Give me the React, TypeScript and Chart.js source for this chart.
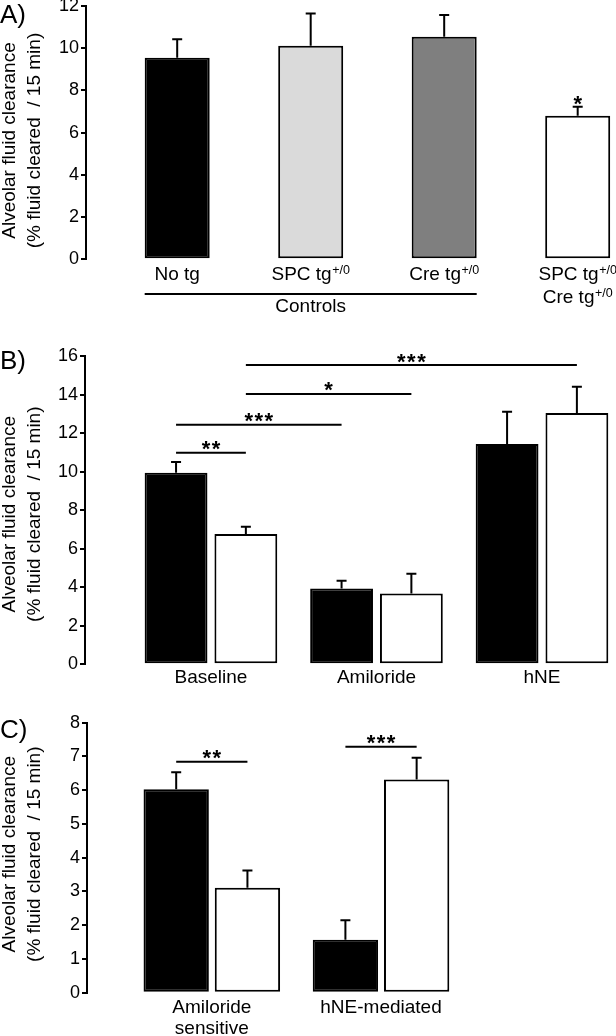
import React, { useEffect, useRef } from 'react';
import { Chart, registerables } from 'chart.js';

Chart.register(...registerables);

const FONT = '"Liberation Sans", Arial, Helvetica, sans-serif';
const Y_TITLE = ['Alveolar fluid clearance', '(% fluid cleared  / 15 min)'];
const SERIES = ['Control', 'SPC tg+/0 Cre tg+/0'];

// ---------- Panel A ----------
const aLabels = [['No tg'], ['SPC tg^+/0'], ['Cre tg^+/0'], ['SPC tg^+/0', 'Cre tg^+/0']];
const aPositions = [1, 2, 3, 4];
const aMeans = [9.55, 10.12, 10.54, 6.8];
const aErrors = [0.87, 1.53, 1.03, 0.43];
const aColors = ['#000000', '#dadada', '#7f7f7f', '#ffffff'];
const aStars = ['', '', '', '*'];
const aGroupName = 'Controls';
const aGroupSpan = [0, 2];
const aTicksMax = 12;
const aTickStep = 2;

// ---------- Panel B ----------
const bGroups = ['Baseline', 'Amiloride', 'hNE'];
const bPositions = [1, 2, 3];
const bControlMeans = [9.94, 3.94, 11.43];
const bControlErrors = [0.56, 0.4, 1.68];
const bTgMeans = [6.76, 3.68, 13.04];
const bTgErrors = [0.38, 1.02, 1.37];
const bSigFrom = [[0, 0], [0, 0], [0, 1], [0, 1]];
const bSigTo = [[0, 1], [1, 0], [1, 1], [2, 1]];
const bSigLevel = [10.98, 12.43, 14.03, 15.53];
const bSigText = ['**', '***', '*', '***'];
const bTicksMax = 16;
const bTickStep = 2;

// ---------- Panel C ----------
const cGroups = [['Amiloride', 'sensitive'], ['hNE-mediated']];
const cPositions = [1, 2];
const cControlMeans = [6.03, 1.57];
const cControlErrors = [0.5, 0.58];
const cTgMeans = [3.11, 6.32];
const cTgErrors = [0.51, 0.64];
const cSigFrom = [[0, 0], [1, 0]];
const cSigTo = [[0, 1], [1, 1]];
const cSigLevel = [6.84, 7.29];
const cSigText = ['**', '***'];
const cTicksMax = 8;
const cTickStep = 1;

function yAxis(max: number, step: number, width: number) {
  return {
    type: 'linear',
    min: 0,
    max,
    ticks: { stepSize: step, color: '#000', font: { family: FONT, size: 18 }, padding: 2 },
    grid: { drawOnChartArea: false, drawTicks: true, tickLength: 5, color: '#000', lineWidth: 2 },
    border: { display: true, color: '#000', width: 2 },
    afterFit: (s: any) => {
      s.width = width;
      s.paddingTop = 0;
      s.paddingBottom = 0;
    },
  };
}

function xAxis(min: number, max: number, positions: number[], labels: any[] | null, pad: number, height: number) {
  return {
    type: 'linear',
    min,
    max,
    offset: false,
    grid: { display: false, drawTicks: false },
    border: { display: false },
    ticks: labels
      ? {
          display: true,
          autoSkip: false,
          maxRotation: 0,
          minRotation: 0,
          color: '#000',
          font: { family: FONT, size: 19, lineHeight: 1.1 },
          padding: pad,
          callback: (v: any) => {
            const i = positions.indexOf(v);
            return i >= 0 ? labels[i] : '';
          },
        }
      : { display: false },
    afterBuildTicks: (s: any) => {
      s.ticks = positions.map((v) => ({ value: v }));
    },
    afterFit: (s: any) => {
      s.height = height;
      s.paddingLeft = 0;
      s.paddingRight = 0;
    },
  };
}

function drawPanelText(ctx: CanvasRenderingContext2D, letter: string, letterBaseline: number, titleCenterY: number) {
  ctx.save();
  ctx.fillStyle = '#000';
  ctx.font = `26px ${FONT}`;
  ctx.textAlign = 'left';
  ctx.textBaseline = 'alphabetic';
  ctx.fillText(letter, 0, letterBaseline);
  ctx.font = `19px ${FONT}`;
  ctx.textAlign = 'center';
  ctx.textBaseline = 'middle';
  const xs = [10, 35];
  Y_TITLE.forEach((t, i) => {
    ctx.save();
    ctx.translate(xs[i], titleCenterY);
    ctx.rotate(-Math.PI / 2);
    ctx.fillText(t, 0, 0);
    ctx.restore();
  });
  ctx.restore();
}

function drawErrorBars(chart: any, errors: number[][]) {
  const ctx = chart.ctx as CanvasRenderingContext2D;
  const ys = chart.scales.y;
  ctx.save();
  ctx.strokeStyle = '#000';
  ctx.lineWidth = 2;
  errors.forEach((errs, di) => {
    const meta = chart.getDatasetMeta(di);
    meta.data.forEach((el: any, i: number) => {
      const raw: any = chart.data.datasets[di].data[i];
      const mean = typeof raw === 'number' ? raw : raw.y;
      const y0 = ys.getPixelForValue(mean);
      const y1 = ys.getPixelForValue(mean + errs[i]);
      ctx.beginPath();
      ctx.moveTo(el.x, y0);
      ctx.lineTo(el.x, y1);
      ctx.moveTo(el.x - 5, y1);
      ctx.lineTo(el.x + 5, y1);
      ctx.stroke();
    });
  });
  ctx.restore();
}

function drawStars(ctx: CanvasRenderingContext2D, text: string, cx: number, cy: number) {
  ctx.save();
  ctx.fillStyle = '#000';
  ctx.font = `bold 22px ${FONT}`;
  (ctx as any).letterSpacing = '1.5px';
  ctx.textAlign = 'center';
  ctx.textBaseline = 'alphabetic';
  const m = ctx.measureText(text);
  const asc = m.actualBoundingBoxAscent;
  const desc = m.actualBoundingBoxDescent;
  const baseline = cy - (desc - asc) / 2;
  ctx.fillText(text, cx + 0.75, baseline);
  ctx.restore();
}

function drawSig(chart: any, from: number[][], to: number[][], levels: number[], texts: string[]) {
  const ctx = chart.ctx as CanvasRenderingContext2D;
  const ys = chart.scales.y;
  from.forEach((f, k) => {
    const x1 = chart.getDatasetMeta(f[1]).data[f[0]].x;
    const x2 = chart.getDatasetMeta(to[k][1]).data[to[k][0]].x;
    const y = ys.getPixelForValue(levels[k]);
    ctx.save();
    ctx.strokeStyle = '#000';
    ctx.lineWidth = 2;
    ctx.beginPath();
    ctx.moveTo(x1, y);
    ctx.lineTo(x2, y);
    ctx.stroke();
    ctx.restore();
    drawStars(ctx, texts[k], (x1 + x2) / 2, y - 7);
  });
}

function drawRichLabel(ctx: CanvasRenderingContext2D, text: string, cx: number, baseline: number) {
  const [main, sup] = text.split('^');
  ctx.font = `19px ${FONT}`;
  const wMain = ctx.measureText(main).width;
  let wSup = 0;
  if (sup) {
    ctx.font = `12.5px ${FONT}`;
    wSup = ctx.measureText(sup).width + 0.5;
  }
  const x0 = cx - (wMain + wSup) / 2;
  ctx.textAlign = 'left';
  ctx.textBaseline = 'alphabetic';
  ctx.font = `19px ${FONT}`;
  ctx.fillText(main, x0, baseline);
  if (sup) {
    ctx.font = `12.5px ${FONT}`;
    ctx.fillText(sup, x0 + wMain + 0.5, baseline - 6.5);
  }
}

function configA(): any {
  const deco = {
    id: 'decoA',
    afterDraw(chart: any) {
      const ctx = chart.ctx as CanvasRenderingContext2D;
      const area = chart.chartArea;
      const ys = chart.scales.y;
      drawErrorBars(chart, [aErrors]);
      const meta = chart.getDatasetMeta(0);
      ctx.save();
      ctx.fillStyle = '#000';
      meta.data.forEach((el: any, i: number) => {
        aLabels[i].forEach((line, li) => drawRichLabel(ctx, line, el.x, area.bottom + 20.7 + li * 23));
        if (aStars[i]) drawStars(ctx, aStars[i], el.x, ys.getPixelForValue(aMeans[i] + aErrors[i]) - 6);
      });
      const e0 = meta.data[aGroupSpan[0]];
      const e1 = meta.data[aGroupSpan[1]];
      const lx = e0.x - e0.width / 2;
      const rx = e1.x + e1.width / 2;
      ctx.strokeStyle = '#000';
      ctx.lineWidth = 2;
      ctx.beginPath();
      ctx.moveTo(lx, area.bottom + 34.7);
      ctx.lineTo(rx, area.bottom + 34.7);
      ctx.stroke();
      ctx.font = `19px ${FONT}`;
      ctx.textAlign = 'center';
      ctx.textBaseline = 'alphabetic';
      ctx.fillText(aGroupName, (lx + rx) / 2, area.bottom + 52.2);
      ctx.restore();
      drawPanelText(ctx, 'A)', 23, 140.5);
    },
  };
  return {
    type: 'bar',
    data: {
      datasets: [
        {
          label: 'AFC',
          data: aPositions.map((x, i) => ({ x, y: aMeans[i] })),
          backgroundColor: aColors,
          borderColor: '#000',
          borderWidth: 2,
          borderSkipped: false,
          barPercentage: 0.487,
          categoryPercentage: 1,
        },
      ],
    },
    options: {
      animation: false,
      responsive: false,
      devicePixelRatio: 1,
      layout: { padding: { top: 6, bottom: 330 - 259.3 - 20, left: 0, right: 4 } },
      plugins: { legend: { display: false }, tooltip: { enabled: false } },
      scales: {
        x: xAxis(0.3169, 4.257, aPositions, null, 0, 20),
        y: yAxis(aTicksMax, aTickStep, 86),
      },
    },
    plugins: [deco],
  };
}

function configB(): any {
  const deco = {
    id: 'decoB',
    afterDraw(chart: any) {
      drawErrorBars(chart, [bControlErrors, bTgErrors]);
      drawSig(chart, bSigFrom, bSigTo, bSigLevel, bSigText);
      drawPanelText(chart.ctx, 'B)', 39, 184.2);
    },
  };
  const common = { borderColor: '#000', borderWidth: 2, borderSkipped: false, barPercentage: 0.9, categoryPercentage: 0.8435 };
  return {
    type: 'bar',
    data: {
      datasets: [
        { label: SERIES[0], data: bPositions.map((x, i) => ({ x, y: bControlMeans[i] })), backgroundColor: '#000', ...common },
        { label: SERIES[1], data: bPositions.map((x, i) => ({ x, y: bTgMeans[i] })), backgroundColor: '#fff', ...common },
      ],
    },
    options: {
      animation: false,
      responsive: false,
      devicePixelRatio: 1,
      layout: { padding: { top: 26, bottom: 0, left: 0, right: 4 } },
      plugins: { legend: { display: false }, tooltip: { enabled: false } },
      scales: {
        x: xAxis(0.239, 3.423, bPositions, bGroups, 3.25, 360 - 334.3),
        y: yAxis(bTicksMax, bTickStep, 85),
      },
    },
    plugins: [deco],
  };
}

function configC(): any {
  const deco = {
    id: 'decoC',
    afterDraw(chart: any) {
      drawErrorBars(chart, [cControlErrors, cTgErrors]);
      drawSig(chart, cSigFrom, cSigTo, cSigLevel, cSigText);
      drawPanelText(chart.ctx, 'C)', 48, 164.2);
    },
  };
  const common = { borderColor: '#000', borderWidth: 2, borderSkipped: false, barPercentage: 0.917, categoryPercentage: 0.842 };
  return {
    type: 'bar',
    data: {
      datasets: [
        { label: SERIES[0], data: cPositions.map((x, i) => ({ x, y: cControlMeans[i] })), backgroundColor: '#000', ...common },
        { label: SERIES[1], data: cPositions.map((x, i) => ({ x, y: cTgMeans[i] })), backgroundColor: '#fff', ...common },
      ],
    },
    options: {
      animation: false,
      responsive: false,
      devicePixelRatio: 1,
      layout: { padding: { top: 32.7, bottom: 0, left: 0, right: 4 } },
      plugins: { legend: { display: false }, tooltip: { enabled: false } },
      scales: {
        x: xAxis(0.2624, 3.365, cPositions, cGroups, 4.55, 346 - 302.7),
        y: yAxis(cTicksMax, cTickStep, 87),
      },
    },
    plugins: [deco],
  };
}

function Panel({ top, height, build }: { top: number; height: number; build: () => any }) {
  const ref = useRef<HTMLCanvasElement>(null);
  useEffect(() => {
    const chart = new Chart(ref.current as HTMLCanvasElement, build());
    return () => chart.destroy();
  }, []);
  return (
    <canvas
      ref={ref}
      width={616}
      height={height}
      style={{ position: 'absolute', left: 0, top, width: 616, height, display: 'block' }}
    />
  );
}

export default function App() {
  return (
    <div style={{ position: 'absolute', left: 0, top: 0, width: 616, height: 1036, background: '#fff', overflow: 'hidden' }}>
      <Panel top={0} height={330} build={configA} />
      <Panel top={330} height={360} build={configB} />
      <Panel top={690} height={346} build={configC} />
    </div>
  );
}
